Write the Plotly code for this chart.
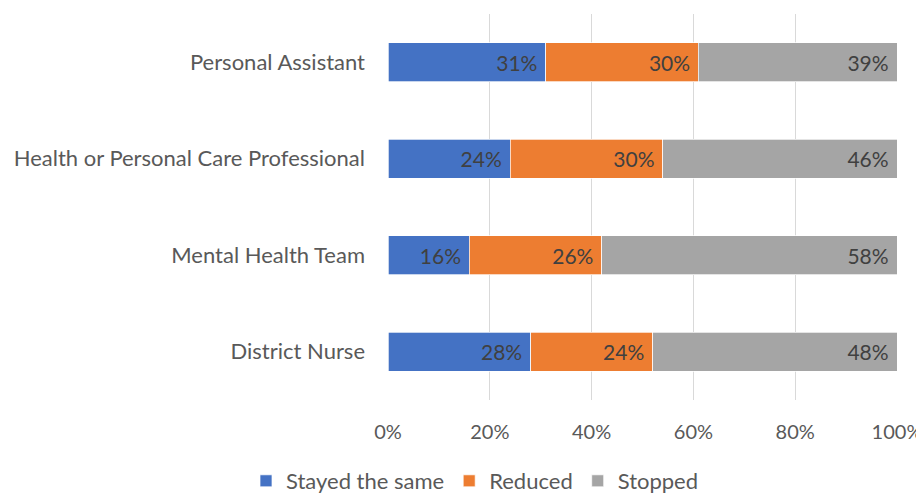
import plotly.graph_objects as go

# categories listed bottom to top
services = ["District Nurse", "Mental Health Team",
            "Health or Personal Care Professional", "Personal Assistant"]
stayed = [28, 16, 24, 31]
reduced = [24, 26, 30, 30]
stopped = [48, 58, 46, 39]

series = [
    ("Stayed the same", stayed, "#4472C4"),
    ("Reduced", reduced, "#ED7D31"),
    ("Stopped", stopped, "#A5A5A5"),
]

FONT = "Lato, Calibri, Carlito, sans-serif"

fig = go.Figure()
for name, vals, color in series:
    fig.add_trace(go.Bar(
        y=services,
        x=vals,
        name=name,
        orientation="h",
        marker=dict(color=color, line=dict(color="#FFFFFF", width=0.7)),
        text=[f"{v}%\u00a0" for v in vals],
        textposition="inside",
        insidetextanchor="end",
        textangle=0,
        textfont=dict(family=FONT, size=21, color="#404040"),
        width=0.4,
        hoverinfo="x+y+name",
    ))

# page body has an 8px margin, so the figure is sized to fit inside it
fig.update_layout(
    barmode="stack",
    width=916, height=485,
    margin=dict(l=380, r=27, t=6, b=93, autoexpand=False),
    paper_bgcolor="white",
    plot_bgcolor="white",
    font=dict(family=FONT, size=21, color="#595959"),
    uniformtext=dict(mode="show", minsize=21),
    legend=dict(
        orientation="h",
        x=(475 - 388) / 509,
        xanchor="center",
        xref="paper",
        y=-81 / 386,
        yanchor="middle",
        font=dict(family=FONT, size=22, color="#595959"),
        itemwidth=30,
        tracegroupgap=0,
        traceorder="normal",
    ),
    showlegend=True,
)

fig.update_xaxes(
    range=[0, 100],
    tickvals=[0, 20, 40, 60, 80, 100],
    ticktext=["0%", "20%", "40%", "60%", "80%", "100%"],
    showgrid=True,
    gridcolor="#D9D9D9",
    gridwidth=1.3,
    zeroline=False,
    showline=False,
    ticks="",
    automargin=False,
    ticklabelstandoff=18,
    tickfont=dict(family=FONT, size=20, color="#595959"),
)
fig.update_yaxes(
    range=[-0.5, 3.5],
    showgrid=False,
    zeroline=False,
    showline=False,
    ticks="",
    automargin=False,
    ticklabelstandoff=22,
    tickfont=dict(family=FONT, size=22, color="#595959"),
)

fig.write_html("out.html")
